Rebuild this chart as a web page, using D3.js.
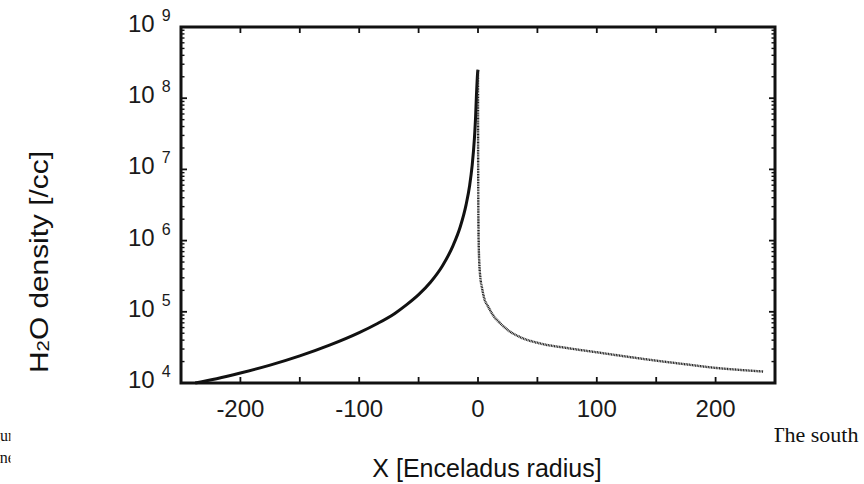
<!DOCTYPE html>
<html><head><meta charset="utf-8">
<script src="https://cdn.jsdelivr.net/npm/d3@7"></script>
<style>body{margin:0;background:#fff}svg{display:block}</style>
</head><body>
<svg id="c" width="864" height="484"></svg>
<script>
// ---- data ----
const leftX = [-238,-220,-200,-175,-150,-125,-100,-85,-70,-60,-50,-40,-30,-21,-15,-10,-7,-5,-3,-2,-1.3,-0.7,-0.3,0];
const leftY = [1.0e4,1.15e4,1.38e4,1.78e4,2.4e4,3.4e4,5.1e4,6.8e4,9.5e4,1.26e5,1.74e5,2.6e5,4.4e5,8.5e5,1.55e6,3.2e6,6e6,1.1e7,2.75e7,5.6e7,1.12e8,1.8e8,2.3e8,2.5e8];
const rightX = [0,0.05,0.15,0.3,0.6,1.2,2,3.3,5,8.7,13,18.7,26,35.6,52,75,100,125,150,175,200,220,240];
const rightY = [2.5e8,5e7,1e7,2.5e6,9e5,4.5e5,3e5,2.2e5,1.6e5,1.17e5,8.8e4,6.9e4,5.4e4,4.4e4,3.6e4,3.1e4,2.7e4,2.35e4,2.06e4,1.83e4,1.63e4,1.53e4,1.45e4];
const xTickLabels = [-200,-100,0,100,200];
const yExponents = [4,5,6,7,8,9];
const xTitle = "X [Enceladus radius]";
const yTitleParts = ["H","2","O density [/cc]"];

const svg = d3.select("#c");
const L=181, R=775, T=27, B=383;
const x = d3.scaleLinear().domain([-250,250]).range([L,R]);
const y = d3.scaleLog().domain([1e4,1e9]).range([B,T]);

// background page fragments (partly hidden behind the chart image, as in the reference)
svg.append("text").attr("x",-21.4).attr("y",441).attr("font-family","Liberation Serif").attr("font-size",16).attr("fill","#111").text("Figur");
svg.append("text").attr("x",-8.3).attr("y",463).attr("font-family","Liberation Serif").attr("font-size",16).attr("fill","#111").text("one");
svg.append("text").attr("x",771).attr("y",442).attr("font-family","Liberation Serif").attr("font-size",22).attr("fill","#111").text("The south");
svg.append("rect").attr("x",10.5).attr("y",0).attr("width",764).attr("height",484).attr("fill","#fff");

const g = svg.append("g");

// ticks
const xMajor = d3.range(-250,251,50);
xMajor.forEach(v=>{
  g.append("line").attr("x1",x(v)).attr("x2",x(v)).attr("y1",B).attr("y2",B-6).attr("stroke","#111").attr("stroke-width",1.8);
  g.append("line").attr("x1",x(v)).attr("x2",x(v)).attr("y1",T).attr("y2",T+6).attr("stroke","#111").attr("stroke-width",1.8);
});
yExponents.forEach(e=>{
  const v=Math.pow(10,e);
  [[L,L+6],[R,R-6]].forEach(([a,b])=>g.append("line").attr("x1",a).attr("x2",b).attr("y1",y(v)).attr("y2",y(v)).attr("stroke","#111").attr("stroke-width",1.8));
  if(e<9){
    for(let m=2;m<=9;m++){
      const vv=m*v;
      [[L,L+3.5],[R,R-3.5]].forEach(([a,b])=>g.append("line").attr("x1",a).attr("x2",b).attr("y1",y(vv)).attr("y2",y(vv)).attr("stroke","#111").attr("stroke-width",1.4));
    }
  }
});

// frame
g.append("rect").attr("x",L).attr("y",T).attr("width",R-L).attr("height",B-T).attr("fill","none").attr("stroke","#111").attr("stroke-width",3);

// tick labels
xTickLabels.forEach(v=>{
  g.append("text").attr("x",x(v)).attr("y",B+34).attr("text-anchor","middle").attr("font-family","Liberation Sans").attr("font-size",24).attr("fill","#1a1a1a").text(v);
});
yExponents.forEach(e=>{
  const t=g.append("text").attr("x",128).attr("y",y(Math.pow(10,e))+5).attr("font-family","Liberation Sans").attr("font-size",24).attr("fill","#1a1a1a");
  t.append("tspan").text("10");
  t.append("tspan").attr("dx",7).attr("dy",-11).attr("font-size",16).text(e);
});

// curves
const line = d3.line().x(d=>x(d[0])).y(d=>y(d[1])).curve(d3.curveMonotoneX);
g.append("path").datum(leftX.map((v,i)=>[v,leftY[i]])).attr("d",line).attr("fill","none").attr("stroke","#111").attr("stroke-width",3);
g.append("path").datum(rightX.map((v,i)=>[v,rightY[i]])).attr("d",line).attr("fill","none").attr("stroke","#222").attr("stroke-width",2.4).attr("stroke-dasharray","1,0.6");

// titles
g.append("text").attr("x",487).attr("y",477).attr("text-anchor","middle").attr("font-family","Liberation Sans").attr("font-size",25).attr("fill","#111").text(xTitle);
const yt=g.append("text").attr("transform","translate(48,262) rotate(-90)").attr("text-anchor","middle").attr("font-family","Liberation Sans").attr("font-size",25).attr("fill","#111")
  .attr("textLength",222).attr("lengthAdjust","spacingAndGlyphs");
yt.append("tspan").text(yTitleParts[0]);
yt.append("tspan").attr("font-size",17).attr("dy",1).text(yTitleParts[1]);
yt.append("tspan").attr("dy",-1).text(yTitleParts[2]);
</script>
</body></html>
